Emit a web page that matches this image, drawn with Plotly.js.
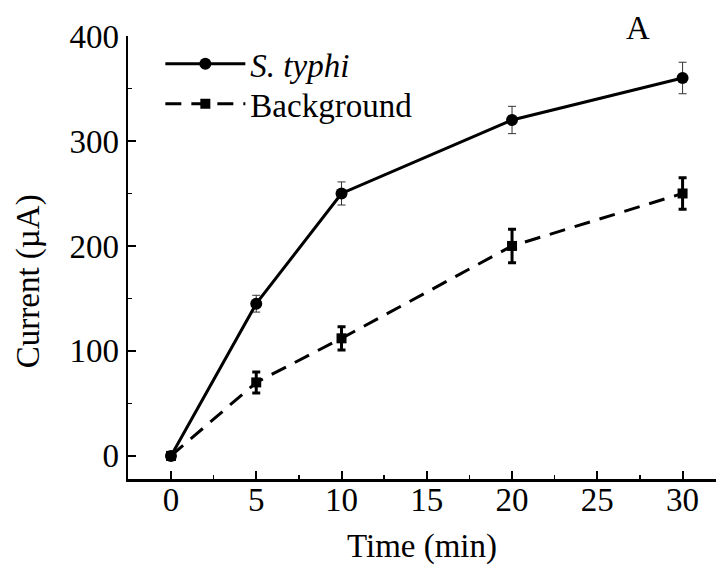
<!DOCTYPE html>
<html>
<head>
<meta charset="utf-8">
<script src="https://cdn.plot.ly/plotly-3.0.1.min.js"></script>
<style>
  html, body { margin: 0; padding: 0; background: #fff; }
  #chart { width: 716px; height: 565px; }
</style>
</head>
<body>
<div id="chart"></div>
<script>
// Sampling times (min)
const timeMin = [0, 5, 10, 20, 30];

// Current response (µA) with S. typhi present, and its standard deviation
const typhiCurrent = [0, 145, 250, 320, 360];
const typhiError = [0, 8, 11, 13, 15];

// Background current (µA) and its standard deviation
const backgroundCurrent = [0, 70, 112, 200, 250];
const backgroundError = [0, 10, 11, 16, 15];

// Axis ticks
const xTicks = [0, 5, 10, 15, 20, 25, 30];
const yTicks = [0, 100, 200, 300, 400];

const serif = 'Liberation Serif, Times New Roman, serif';
const textFont = { family: serif, size: 33, color: '#000' };

const traces = [
  {
    name: '<i>S. typhi</i>',
    legend: 'legend',
    x: timeMin,
    y: typhiCurrent,
    type: 'scatter',
    mode: 'lines+markers',
    line: { color: '#000', width: 3 },
    marker: { symbol: 'circle', size: 12, color: '#000' },
    error_y: { type: 'data', array: typhiError, visible: true,
               color: '#333', thickness: 1, width: 4 }
  },
  {
    name: 'Background',
    legend: 'legend2',
    x: timeMin,
    y: backgroundCurrent,
    type: 'scatter',
    mode: 'lines+markers',
    line: { color: '#000', width: 3, dash: '16px,10px' },
    marker: { symbol: 'square', size: 10, color: '#000' },
    error_y: { type: 'data', array: backgroundError, visible: true,
               color: '#000', thickness: 3, width: 4 }
  }
];

// One legend per series so the two rows can sit close together
const legendBase = {
  xanchor: 'left', yanchor: 'middle',
  bgcolor: 'rgba(0,0,0,0)',
  font: textFont,
  itemwidth: 80
};

const layout = {
  width: 716,
  height: 565,
  margin: { l: 128, r: 0, t: 36, b: 86 },
  paper_bgcolor: '#fff',
  plot_bgcolor: '#fff',
  font: textFont,
  showlegend: true,
  legend: Object.assign({ x: 0.055, y: 0.937 }, legendBase),
  legend2: Object.assign({ x: 0.055, y: 0.847 }, legendBase),
  xaxis: {
    range: [-2.52, 31.96],
    tickvals: xTicks,
    ticks: 'inside', ticklen: 8, tickwidth: 2, tickcolor: '#000',
    ticklabelstandoff: -10,
    showline: true, linecolor: '#000', linewidth: 2.5,
    showgrid: false, zeroline: false,
    tickfont: textFont,
    minor: { dtick: 2.5, ticks: 'inside', ticklen: 4, tickwidth: 1.5, tickcolor: '#000', showgrid: false },
    title: { text: 'Time (min)', font: textFont, standoff: 17 }
  },
  yaxis: {
    range: [-22, 400],
    tickvals: yTicks,
    ticks: 'inside', ticklen: 8, tickwidth: 2, tickcolor: '#000',
    showline: true, linecolor: '#000', linewidth: 2.5,
    showgrid: false, zeroline: false,
    tickfont: textFont,
    minor: { dtick: 50, ticks: 'inside', ticklen: 4, tickwidth: 1.5, tickcolor: '#000', showgrid: false }
  },
  annotations: [
    {
      text: 'Current (µA)',
      xref: 'paper', yref: 'paper',
      x: -0.168, y: 0.447,
      xanchor: 'center', yanchor: 'middle',
      textangle: -90, showarrow: false,
      font: textFont
    },
    {
      text: 'A',
      xref: 'paper', yref: 'paper',
      x: 0.867, y: 1.018,
      xanchor: 'center', yanchor: 'middle',
      showarrow: false,
      font: textFont
    }
  ]
};

Plotly.newPlot('chart', traces, layout, { staticPlot: true, displayModeBar: false });
</script>
</body>
</html>
